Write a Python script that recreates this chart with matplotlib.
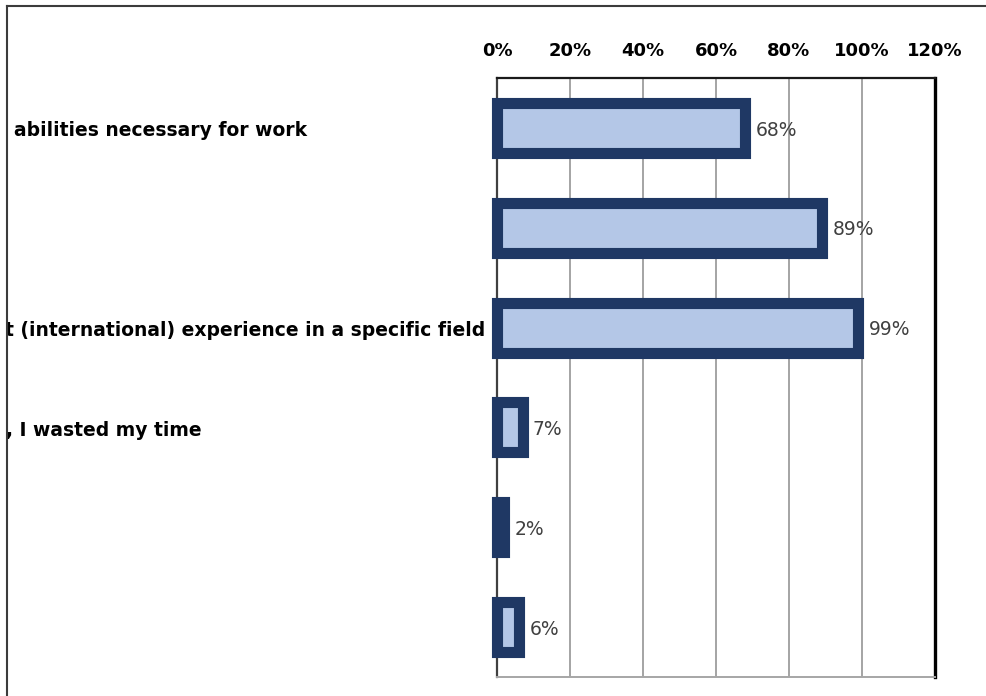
import matplotlib
matplotlib.use('Agg')
import matplotlib.pyplot as plt
from matplotlib import transforms
from matplotlib.lines import Line2D
from matplotlib.patches import Rectangle
from matplotlib.ticker import FuncFormatter, MultipleLocator


categories = [
    'abilities necessary for work',
    '',
    't (international) experience in a specific field',
    ', I wasted my time',
    '',
    '',
]
shares = [0.68, 0.89, 0.99, 0.07, 0.02, 0.06]
value_labels = ['68%', '89%', '99%', '7%', '2%', '6%']

W, H = 987, 696
FILL = '#b4c7e7'
EDGE = '#1f3864'


def px_x(x):
    return x / W


def px_y(y):
    return 1 - y / H


def main():
    plt.rcParams['font.family'] = ['DejaVu Sans']

    fig = plt.figure(figsize=(W / 100, H / 100), dpi=100)
    ax = fig.add_axes([px_x(497), px_y(677), (935 - 497) / W, (677 - 78) / H])

    ypos = list(range(len(categories)))
    ax.barh(ypos, shares, height=0.5, color=FILL, edgecolor=EDGE,
            linewidth=8, clip_on=False, zorder=3)

    for y, v, lab in zip(ypos, shares, value_labels):
        ax.annotate(lab, (v, y), xytext=(7.5, -1.5), textcoords='offset points',
                    ha='left', va='center', fontsize=13.5, color='#404040',
                    zorder=4)

    ax.set_xlim(0, 1.2)
    ax.set_ylim(len(categories) - 0.5, -0.5)
    ax.xaxis.set_major_locator(MultipleLocator(0.2))
    ax.xaxis.set_major_formatter(FuncFormatter(lambda v, _: f'{v * 100:.0f}%'))
    ax.xaxis.tick_top()
    ax.tick_params(axis='x', length=0, pad=13, labelsize=13)
    for t in ax.get_xticklabels():
        t.set_fontweight('bold')
    ax.set_yticks([])
    ax.grid(axis='x', color='#8c8c8c', linewidth=1.1, zorder=0)
    ax.set_axisbelow(True)

    ax.spines['left'].set_color('#404040')
    ax.spines['left'].set_linewidth(1.6)
    ax.spines['top'].set_color('#1a1a1a')
    ax.spines['top'].set_linewidth(1.6)
    ax.spines['right'].set_color('black')
    ax.spines['right'].set_linewidth(2.4)
    ax.spines['bottom'].set_color('#a6a6a6')
    ax.spines['bottom'].set_linewidth(1.4)

    # category labels: x in figure coords, y tied to the category rows
    trans = transforms.blended_transform_factory(fig.transFigure, ax.transData)
    anchors = {0: (px_x(14), 'left'), 2: (px_x(485), 'right'), 3: (px_x(6), 'left')}
    for i, name in enumerate(categories):
        if not name:
            continue
        x, ha = anchors[i]
        ax.text(x, i + 0.03, name, transform=trans, ha=ha, va='center',
                fontsize=13.5, fontweight='bold', color='black', clip_on=False)

    # white margin and the outer frame on the left and top
    fig.add_artist(Rectangle((0, 0), px_x(7), 1, transform=fig.transFigure,
                             facecolor='white', edgecolor='none', zorder=10))
    frame_kw = dict(transform=fig.transFigure, color='#3c3c3c', linewidth=1.5, zorder=11)
    fig.add_artist(Line2D([px_x(7.5), px_x(7.5)], [0, px_y(6)], **frame_kw))
    fig.add_artist(Line2D([px_x(7), 1], [px_y(6), px_y(6)], **frame_kw))

    fig.savefig('out.png', dpi=100)
    plt.close(fig)


if __name__ == '__main__':
    main()
